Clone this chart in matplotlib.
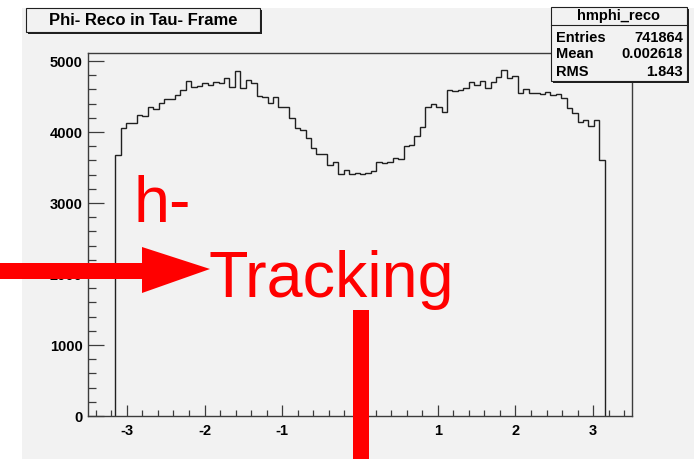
import matplotlib.pyplot as plt
import numpy as np
from matplotlib.patches import Rectangle, Polygon
from matplotlib.ticker import MultipleLocator

plt.rcParams['font.family'] = ['Liberation Sans', 'DejaVu Sans']
plt.rcParams['axes.unicode_minus'] = False

# phi of the reconstructed hadron in the tau frame, 90 bins of 0.07 over [-3.15, 3.15]
bin_lo, bin_hi, n_bins = -3.15, 3.15, 90
counts = [3676, 4052, 4131, 4131, 4239, 4221, 4347, 4329, 4413, 4470,
          4470, 4516, 4587, 4723, 4634, 4653, 4685, 4667, 4709, 4690,
          4756, 4638, 4864, 4620, 4737, 4685, 4512, 4493, 4413, 4498,
          4357, 4357, 4192, 4052, 4033, 3920, 3779, 3695, 3695, 3535,
          3582, 3404, 3465, 3404, 3418, 3404, 3418, 3451, 3582, 3568,
          3582, 3638, 3620, 3803, 3817, 3948, 4070, 4347, 4400, 4357,
          4286, 4592, 4577, 4596, 4615, 4709, 4662, 4723, 4615, 4709,
          4779, 4873, 4756, 4789, 4554, 4606, 4545, 4554, 4535, 4559,
          4521, 4531, 4484, 4343, 4263, 4136, 4169, 4085, 4169, 3600]

hist_name = "hmphi_reco"
stat_names = ["Entries", "Mean", "RMS"]
stat_values = ["741864", "0.002618", "1.843"]
title = "Phi- Reco in Tau- Frame"
x_ticks = [-3, -2, -1, 1, 2, 3]
y_ticks = [0, 1000, 2000, 3000, 4000, 5000]

W, H = 694, 459
BG = '#f2f2f2'
FRAME = '#3c3c3c'


def fx(px):
    return px / W


def fy(py):
    return 1 - py / H


fig = plt.figure(figsize=(W / 100, H / 100), dpi=100, facecolor='white')

# grey canvas
fig.add_artist(Rectangle((fx(22), 0), 1, fy(8), transform=fig.transFigure,
                         facecolor=BG, edgecolor='none', zorder=-10))

ax = fig.add_axes([fx(88), fy(416), fx(632) - fx(88), fy(52.7) - fy(416)])
ax.set_facecolor(BG)

edges = np.linspace(bin_lo, bin_hi, n_bins + 1)
ax.stairs(counts, edges, baseline=0, fill=False, color='#202020', linewidth=1.0)

ax.set_xlim(-3.5, 3.5)
ax.set_ylim(0, 5117)
ax.set_xticks(x_ticks)
ax.set_yticks(y_ticks)
ax.xaxis.set_minor_locator(MultipleLocator(0.2))
ax.yaxis.set_minor_locator(MultipleLocator(200))

for s in ax.spines.values():
    s.set_color(FRAME)
    s.set_linewidth(1.0)

ax.tick_params(axis='x', which='major', direction='in', length=8, width=0.9,
               color=FRAME, pad=6, labelsize=10.5)
ax.tick_params(axis='x', which='minor', direction='in', length=4.3, width=0.9,
               color=FRAME)
ax.tick_params(axis='y', which='major', direction='in', length=11.3, width=0.9,
               color=FRAME, pad=4, labelsize=10.5)
ax.tick_params(axis='y', which='minor', direction='in', length=5.8, width=0.9,
               color=FRAME)
for lab in ax.get_xticklabels() + ax.get_yticklabels():
    lab.set_fontweight('bold')

# title box with shadow
fig.add_artist(Rectangle((fx(28), fy(34)), fx(260) - fx(26), fy(8) - fy(32),
                         transform=fig.transFigure, facecolor='#202020',
                         edgecolor='none', zorder=5))
fig.add_artist(Rectangle((fx(26), fy(32)), fx(260) - fx(26), fy(8) - fy(32),
                         transform=fig.transFigure, facecolor=BG,
                         edgecolor='#202020', linewidth=0.8, zorder=6))
fig.text(fx(143), fy(20.5), title, ha='center', va='center', fontsize=12,
         fontweight='bold', zorder=7)

# stats box with shadow
sx0, sx1, sy0, sy1 = 551, 687, 7, 81
fig.add_artist(Rectangle((fx(sx0 + 2), fy(sy1 + 2)), fx(sx1) - fx(sx0), fy(sy0) - fy(sy1),
                         transform=fig.transFigure, facecolor='#202020',
                         edgecolor='none', zorder=5))
fig.add_artist(Rectangle((fx(sx0), fy(sy1)), fx(sx1) - fx(sx0), fy(sy0) - fy(sy1),
                         transform=fig.transFigure, facecolor=BG,
                         edgecolor='#202020', linewidth=0.8, zorder=6))
fig.add_artist(plt.Line2D([fx(sx0), fx(sx1)], [fy(24.5), fy(24.5)],
                          transform=fig.transFigure, color='#202020',
                          linewidth=0.8, zorder=7))
fig.text(fx((sx0 + sx1) / 2), fy(16), hist_name, ha='center', va='center',
         fontsize=10.5, fontweight='bold', zorder=7)
for i, (name, val) in enumerate(zip(stat_names, stat_values)):
    yy = fy(37.5 + 17 * i)
    fig.text(fx(556), yy, name, ha='left', va='center', fontsize=10.5,
             fontweight='bold', zorder=7)
    fig.text(fx(683), yy, val, ha='right', va='center', fontsize=10.5,
             fontweight='bold', zorder=7)

# red annotations
RED = '#ff0000'
fig.text(fx(133), fy(222), "h-", color=RED, fontsize=46.5, va='baseline',
         ha='left', zorder=8)
fig.text(fx(208), fy(297), "Tracking", color=RED, fontsize=46.5, va='baseline',
         ha='left', zorder=8)

arrow = [(0, 263), (142, 263), (142, 247), (210, 269), (142, 293),
         (142, 279), (0, 279)]
fig.add_artist(Polygon([(fx(x), fy(y)) for x, y in arrow], closed=True,
                       transform=fig.transFigure, facecolor=RED,
                       edgecolor='none', zorder=8))
fig.add_artist(Rectangle((fx(353.3), 0), fx(369) - fx(353.3), fy(310),
                         transform=fig.transFigure, facecolor=RED,
                         edgecolor='none', zorder=8))

fig.savefig('out.png', dpi=100, facecolor='white')
